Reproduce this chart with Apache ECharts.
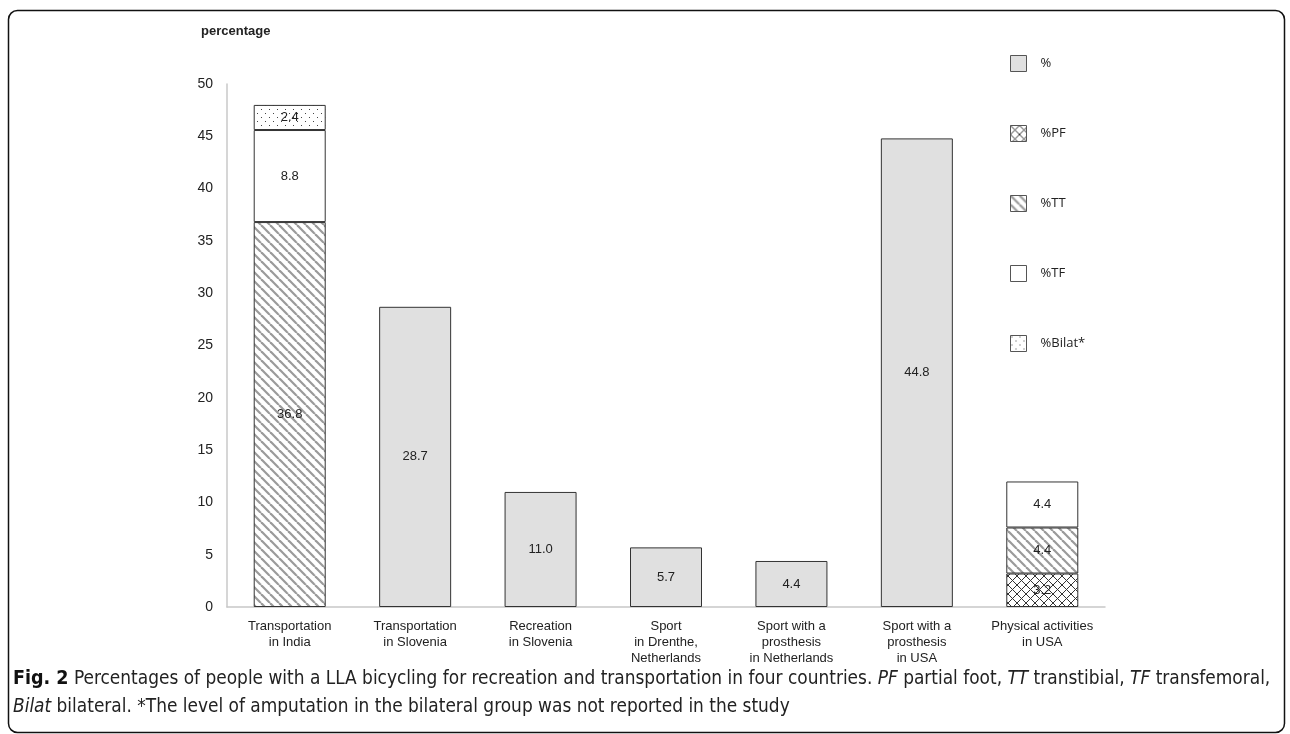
<!DOCTYPE html>
<html>
<head>
<meta charset="utf-8">
<script src="https://cdn.jsdelivr.net/npm/echarts@6/dist/echarts.min.js"></script>
<style>
html,body{margin:0;padding:0;background:#fff;}
#c{width:1290px;height:734px;}
</style>
</head>
<body>
<div id="c"></div>
<script>
var categories = [
  "Transportation\nin India",
  "Transportation\nin Slovenia",
  "Recreation\nin Slovenia",
  "Sport\nin Drenthe,\nNetherlands",
  "Sport with a\nprosthesis\nin Netherlands",
  "Sport with a\nprosthesis\nin USA",
  "Physical activities\nin USA"
];
var pctValues   = [null, 28.7, 11.0, 5.7, 4.4, 44.8, null];
var pfValues    = [null, null, null, null, null, null, 3.2];
var ttValues    = [36.8, null, null, null, null, null, 4.4];
var tfValues    = [8.8, null, null, null, null, null, 4.4];
var bilatValues = [2.4, null, null, null, null, null, null];
var yTicks = [0, 5, 10, 15, 20, 25, 30, 35, 40, 45, 50];
var legendNames = ["%", "%PF", "%TT", "%TF", "%Bilat*"];

function makeTile(s, draw) {
  var c = document.createElement('canvas');
  c.width = s; c.height = s;
  var ctx = c.getContext('2d');
  ctx.fillStyle = '#ffffff';
  ctx.fillRect(0, 0, s, s);
  draw(ctx, s);
  return {image: c, repeat: 'repeat'};
}
var stripe = makeTile(9, function (ctx, s) {
  ctx.strokeStyle = '#9a9a9a';
  ctx.lineWidth = 2.2;
  for (var k = -1; k <= 1; k++) {
    ctx.beginPath();
    ctx.moveTo(k * s, 0);
    ctx.lineTo(k * s + s, s);
    ctx.stroke();
  }
});
var cross = makeTile(9, function (ctx, s) {
  ctx.strokeStyle = '#333333';
  ctx.lineWidth = 1;
  for (var k = -1; k <= 1; k++) {
    ctx.beginPath();
    ctx.moveTo(k * s, 0);
    ctx.lineTo(k * s + s, s);
    ctx.stroke();
    ctx.beginPath();
    ctx.moveTo(k * s + s, 0);
    ctx.lineTo(k * s, s);
    ctx.stroke();
  }
});
var dots = makeTile(8, function (ctx, s) {
  ctx.fillStyle = '#444444';
  ctx.fillRect(1, 1, 1, 1);
  ctx.fillRect(5, 5, 1, 1);
});

var labelFont = '"Liberation Sans", Arial, sans-serif';
var capFont = '"DejaVu Sans Condensed", "Liberation Sans Narrow", sans-serif';
function lbl() {
  return {
    show: true,
    position: 'inside',
    color: '#222',
    fontSize: 13,
    fontFamily: labelFont,
    formatter: function (p) { return p.value == null ? '' : Number(p.value).toFixed(1); }
  };
}
function ser(name, data, color) {
  return {
    name: name,
    type: 'bar',
    stack: 'all',
    barWidth: 72,
    data: data,
    itemStyle: {color: color, borderColor: '#333', borderWidth: 1},
    label: lbl(),
    emphasis: {disabled: true}
  };
}

var chart = echarts.init(document.getElementById('c'));
chart.setOption({
  animation: false,
  backgroundColor: '#fff',
  grid: {left: 227, right: 185, top: 84, bottom: 127, containLabel: false},
  legend: {
    data: legendNames,
    orient: 'vertical',
    left: 1005,
    top: 50,
    itemWidth: 16,
    itemHeight: 16,
    itemGap: 53,
    icon: 'rect',
    itemStyle: {borderColor: '#555', borderWidth: 1},
    textStyle: {fontFamily: '"Open Sans", sans-serif', fontSize: 13, color: '#222', padding: [0, 0, 0, 9]},
    selectedMode: false
  },
  xAxis: {
    type: 'category',
    data: categories,
    axisLine: {show: true, lineStyle: {color: '#c8c8c8', width: 1.5}},
    axisTick: {show: false},
    axisLabel: {color: '#222', fontSize: 13, fontFamily: labelFont, lineHeight: 16, margin: 11, interval: 0}
  },
  yAxis: {
    type: 'value',
    min: yTicks[0],
    max: yTicks[yTicks.length - 1],
    interval: yTicks[1] - yTicks[0],
    axisLine: {show: true, lineStyle: {color: '#c8c8c8', width: 1.5}},
    axisTick: {show: false},
    splitLine: {show: false},
    axisLabel: {color: '#222', fontSize: 14, fontFamily: labelFont, margin: 14}
  },
  series: [
    ser(legendNames[0], pctValues, '#e0e0e0'),
    ser(legendNames[1], pfValues, cross),
    ser(legendNames[2], ttValues, stripe),
    ser(legendNames[3], tfValues, '#ffffff'),
    ser(legendNames[4], bilatValues, dots)
  ],
  graphic: [
    {
      type: 'rect',
      shape: {x: 8.5, y: 10.5, width: 1276, height: 722, r: 9},
      style: {fill: 'none', stroke: '#111', lineWidth: 1.5},
      silent: true
    },
    {
      type: 'text',
      left: 201,
      top: 25,
      silent: true,
      style: {
        text: 'percentage',
        font: 'bold 13px "Liberation Sans", Arial, sans-serif',
        fill: '#222'
      }
    },
    {
      type: 'text',
      left: 13,
      top: 665,
      silent: true,
      style: {
        text: '{b|Fig. 2} Percentages of people with a LLA bicycling for recreation and transportation in four countries. {i|PF} partial foot, {i|TT} transtibial, {i|TF} transfemoral,\n{i|Bilat} bilateral. *The level of amputation in the bilateral group was not reported in the study',
        font: '18.9px ' + capFont,
        fill: '#222',
        lineHeight: 28,
        rich: {
          b: {fontWeight: 'bold', fontSize: 19.5, fill: '#111', fontFamily: capFont, lineHeight: 28},
          i: {fontStyle: 'italic', fontSize: 18.9, fill: '#222', fontFamily: capFont, lineHeight: 28}
        }
      }
    }
  ]
});
</script>
</body>
</html>
